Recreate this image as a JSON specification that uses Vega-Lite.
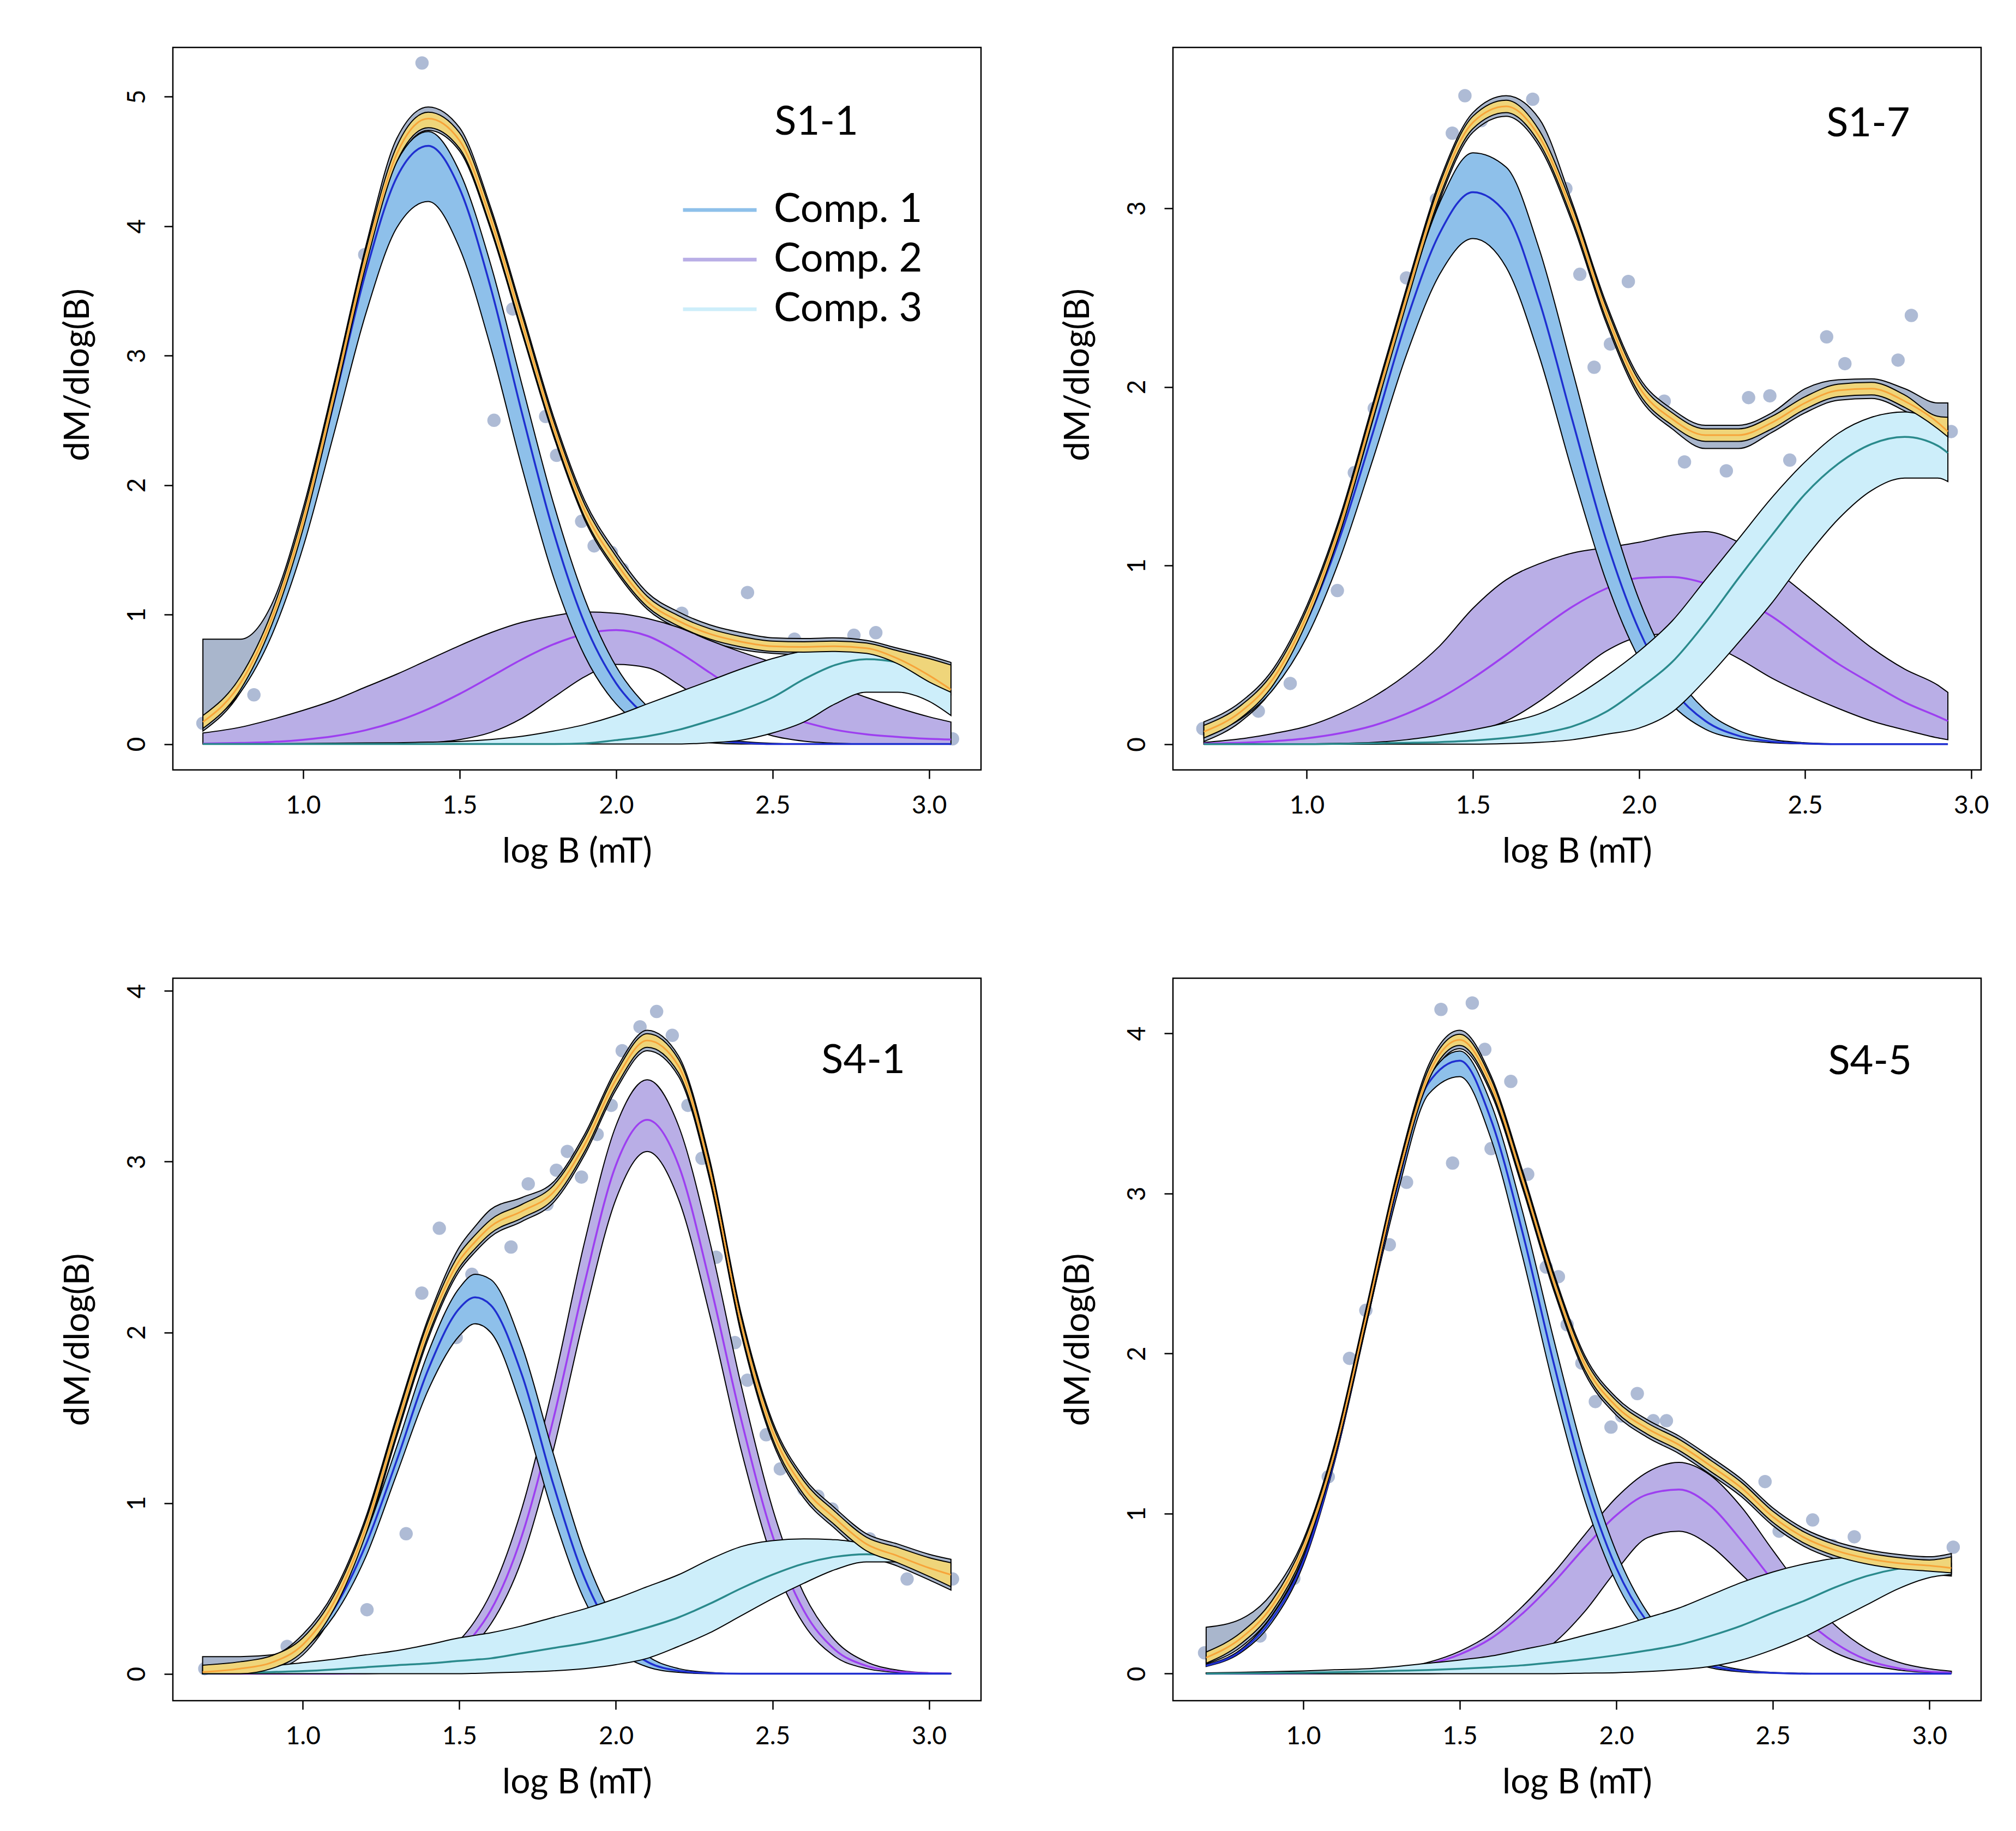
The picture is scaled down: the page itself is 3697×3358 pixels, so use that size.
{
"$schema": "https://vega.github.io/schema/vega-lite/v6.json",
"background": "white",
"padding": {"left": 109, "top": 85, "right": 10, "bottom": 10},
"datasets": {
"curves": [
{"p":"S1-1","x":0.68,"el":0.10,"eh":0.81,"c1l":0.14,"c1":0.17,"c1h":0.19,"c2l":0,"c2":0.003,"c2h":0.085,"c3l":0,"c3":0,"c3h":0,"tl":0.12,"t":0.17,"th":0.22},
{"p":"S1-1","x":0.8,"el":0.40,"eh":0.81,"c1l":0.40,"c1":0.46,"c1h":0.49,"c2l":0,"c2":0.008,"c2h":0.13,"c3l":0,"c3":0,"c3h":0,"tl":0.42,"t":0.47,"th":0.52},
{"p":"S1-1","x":0.9,"el":0.90,"eh":1.08,"c1l":0.84,"c1":0.95,"c1h":1.0,"c2l":0,"c2":0.016,"c2h":0.19,"c3l":0,"c3":0,"c3h":0.002,"tl":0.92,"t":0.97,"th":1.02},
{"p":"S1-1","x":1.0,"el":1.64,"eh":1.82,"c1l":1.52,"c1":1.69,"c1h":1.76,"c2l":0,"c2":0.033,"c2h":0.26,"c3l":0,"c3":0,"c3h":0.004,"tl":1.66,"t":1.72,"th":1.78},
{"p":"S1-1","x":1.1,"el":2.63,"eh":2.80,"c1l":2.41,"c1":2.65,"c1h":2.74,"c2l":0,"c2":0.061,"c2h":0.34,"c3l":0,"c3":0,"c3h":0.006,"tl":2.65,"t":2.71,"th":2.77},
{"p":"S1-1","x":1.2,"el":3.67,"eh":3.84,"c1l":3.32,"c1":3.64,"c1h":3.75,"c2l":0,"c2":0.107,"c2h":0.44,"c3l":0,"c3":0,"c3h":0.008,"tl":3.69,"t":3.75,"th":3.81},
{"p":"S1-1","x":1.3,"el":4.48,"eh":4.68,"c1l":3.99,"c1":4.38,"c1h":4.5,"c2l":0,"c2":0.176,"c2h":0.54,"c3l":0,"c3":0,"c3h":0.01,"tl":4.50,"t":4.56,"th":4.62},
{"p":"S1-1","x":1.4,"el":4.74,"eh":4.92,"c1l":4.19,"c1":4.62,"c1h":4.73,"c2l":0.01,"c2":0.27,"c2h":0.65,"c3l":0,"c3":0,"c3h":0.015,"tl":4.76,"t":4.83,"th":4.88},
{"p":"S1-1","x":1.5,"el":4.58,"eh":4.76,"c1l":3.83,"c1":4.29,"c1h":4.42,"c2l":0.034,"c2":0.387,"c2h":0.76,"c3l":0,"c3":0,"c3h":0.02,"tl":4.60,"t":4.66,"th":4.72},
{"p":"S1-1","x":1.6,"el":3.97,"eh":4.14,"c1l":3.06,"c1":3.52,"c1h":3.70,"c2l":0.09,"c2":0.52,"c2h":0.86,"c3l":0,"c3":0,"c3h":0.035,"tl":3.99,"t":4.05,"th":4.11},
{"p":"S1-1","x":1.7,"el":3.17,"eh":3.34,"c1l":2.13,"c1":2.55,"c1h":2.77,"c2l":0.20,"c2":0.655,"c2h":0.94,"c3l":0,"c3":0,"c3h":0.06,"tl":3.19,"t":3.25,"th":3.31},
{"p":"S1-1","x":1.8,"el":2.38,"eh":2.53,"c1l":1.29,"c1":1.64,"c1h":1.86,"c2l":0.36,"c2":0.77,"c2h":0.99,"c3l":0,"c3":0,"c3h":0.10,"tl":2.40,"t":2.45,"th":2.50},
{"p":"S1-1","x":1.9,"el":1.73,"eh":1.88,"c1l":0.68,"c1":0.93,"c1h":1.12,"c2l":0.52,"c2":0.85,"c2h":1.02,"c3l":0,"c3":0.005,"c3h":0.15,"tl":1.75,"t":1.80,"th":1.85},
{"p":"S1-1","x":2.0,"el":1.33,"eh":1.48,"c1l":0.31,"c1":0.47,"c1h":0.60,"c2l":0.615,"c2":0.88,"c2h":1.01,"c3l":0,"c3":0.03,"c3h":0.22,"tl":1.35,"t":1.40,"th":1.45},
{"p":"S1-1","x":2.1,"el":1.04,"eh":1.17,"c1l":0.13,"c1":0.21,"c1h":0.29,"c2l":0.59,"c2":0.835,"c2h":0.97,"c3l":0,"c3":0.06,"c3h":0.31,"tl":1.06,"t":1.10,"th":1.14},
{"p":"S1-1","x":2.2,"el":0.89,"eh":1.02,"c1l":0.05,"c1":0.08,"c1h":0.12,"c2l":0.46,"c2":0.71,"c2h":0.90,"c3l":0,"c3":0.11,"c3h":0.40,"tl":0.91,"t":0.95,"th":0.99},
{"p":"S1-1","x":2.3,"el":0.79,"eh":0.92,"c1l":0.01,"c1":0.03,"c1h":0.05,"c2l":0.29,"c2":0.55,"c2h":0.80,"c3l":0.01,"c3":0.18,"c3h":0.49,"tl":0.81,"t":0.85,"th":0.89},
{"p":"S1-1","x":2.4,"el":0.73,"eh":0.86,"c1l":0,"c1":0.01,"c1h":0.02,"c2l":0.15,"c2":0.39,"c2h":0.71,"c3l":0.03,"c3":0.26,"c3h":0.58,"tl":0.75,"t":0.79,"th":0.83},
{"p":"S1-1","x":2.5,"el":0.70,"eh":0.82,"c1l":0,"c1":0,"c1h":0.005,"c2l":0.063,"c2":0.24,"c2h":0.63,"c3l":0.085,"c3":0.36,"c3h":0.66,"tl":0.715,"t":0.755,"th":0.795},
{"p":"S1-1","x":2.6,"el":0.69,"eh":0.815,"c1l":0,"c1":0,"c1h":0,"c2l":0.022,"c2":0.17,"c2h":0.54,"c3l":0.17,"c3":0.50,"c3h":0.72,"tl":0.71,"t":0.75,"th":0.79},
{"p":"S1-1","x":2.7,"el":0.70,"eh":0.82,"c1l":0,"c1":0,"c1h":0,"c2l":0.006,"c2":0.11,"c2h":0.45,"c3l":0.31,"c3":0.61,"c3h":0.76,"tl":0.715,"t":0.755,"th":0.795},
{"p":"S1-1","x":2.8,"el":0.68,"eh":0.80,"c1l":0,"c1":0,"c1h":0,"c2l":0,"c2":0.075,"c2h":0.36,"c3l":0.40,"c3":0.655,"c3h":0.75,"tl":0.70,"t":0.74,"th":0.78},
{"p":"S1-1","x":2.9,"el":0.60,"eh":0.74,"c1l":0,"c1":0,"c1h":0,"c2l":0,"c2":0.055,"c2h":0.28,"c3l":0.40,"c3":0.63,"c3h":0.70,"tl":0.62,"t":0.66,"th":0.72},
{"p":"S1-1","x":3.0,"el":0.46,"eh":0.68,"c1l":0,"c1":0,"c1h":0,"c2l":0,"c2":0.04,"c2h":0.21,"c3l":0.33,"c3":0.52,"c3h":0.58,"tl":0.48,"t":0.53,"th":0.66},
{"p":"S1-1","x":3.07,"el":0.38,"eh":0.63,"c1l":0,"c1":0,"c1h":0,"c2l":0,"c2":0.035,"c2h":0.17,"c3l":0.22,"c3":0.42,"c3h":0.50,"tl":0.40,"t":0.42,"th":0.61},

{"p":"S1-7","x":0.69,"el":0.015,"eh":0.125,"c1l":0.052,"c1":0.067,"c1h":0.075,"c2l":0,"c2":0.004,"c2h":0.01,"c3l":0,"c3":0,"c3h":0,"tl":0.035,"t":0.07,"th":0.105},
{"p":"S1-7","x":0.8,"el":0.125,"eh":0.235,"c1l":0.14,"c1":0.174,"c1h":0.18,"c2l":0,"c2":0.008,"c2h":0.03,"c3l":0,"c3":0,"c3h":0,"tl":0.145,"t":0.18,"th":0.215},
{"p":"S1-7","x":0.9,"el":0.315,"eh":0.425,"c1l":0.31,"c1":0.367,"c1h":0.38,"c2l":0,"c2":0.017,"c2h":0.06,"c3l":0,"c3":0,"c3h":0,"tl":0.335,"t":0.37,"th":0.405},
{"p":"S1-7","x":1.0,"el":0.665,"eh":0.775,"c1l":0.60,"c1":0.69,"c1h":0.71,"c2l":0,"c2":0.033,"c2h":0.10,"c3l":0,"c3":0,"c3h":0.002,"tl":0.685,"t":0.72,"th":0.755},
{"p":"S1-7","x":1.1,"el":1.165,"eh":1.275,"c1l":1.04,"c1":1.16,"c1h":1.19,"c2l":0,"c2":0.061,"c2h":0.17,"c3l":0,"c3":0.002,"c3h":0.005,"tl":1.185,"t":1.22,"th":1.255},
{"p":"S1-7","x":1.2,"el":1.805,"eh":1.915,"c1l":1.60,"c1":1.75,"c1h":1.82,"c2l":0,"c2":0.104,"c2h":0.265,"c3l":0,"c3":0.005,"c3h":0.01,"tl":1.825,"t":1.86,"th":1.895},
{"p":"S1-7","x":1.3,"el":2.445,"eh":2.555,"c1l":2.18,"c1":2.37,"c1h":2.48,"c2l":0.01,"c2":0.17,"c2h":0.39,"c3l":0,"c3":0.008,"c3h":0.025,"tl":2.465,"t":2.50,"th":2.535},
{"p":"S1-7","x":1.4,"el":3.045,"eh":3.155,"c1l":2.63,"c1":2.86,"c1h":3.03,"c2l":0.03,"c2":0.257,"c2h":0.55,"c3l":0,"c3":0.012,"c3h":0.05,"tl":3.065,"t":3.10,"th":3.135},
{"p":"S1-7","x":1.5,"el":3.425,"eh":3.535,"c1l":2.83,"c1":3.09,"c1h":3.31,"c2l":0.07,"c2":0.37,"c2h":0.76,"c3l":0,"c3":0.02,"c3h":0.08,"tl":3.445,"t":3.48,"th":3.515},
{"p":"S1-7","x":1.6,"el":3.515,"eh":3.63,"c1l":2.67,"c1":2.97,"c1h":3.23,"c2l":0.13,"c2":0.50,"c2h":0.92,"c3l":0.003,"c3":0.035,"c3h":0.12,"tl":3.535,"t":3.57,"th":3.605},
{"p":"S1-7","x":1.7,"el":3.345,"eh":3.50,"c1l":2.17,"c1":2.48,"c1h":2.77,"c2l":0.24,"c2":0.64,"c2h":1.01,"c3l":0.01,"c3":0.06,"c3h":0.17,"tl":3.365,"t":3.40,"th":3.435},
{"p":"S1-7","x":1.8,"el":2.915,"eh":3.025,"c1l":1.52,"c1":1.81,"c1h":2.09,"c2l":0.38,"c2":0.77,"c2h":1.07,"c3l":0.025,"c3":0.10,"c3h":0.26,"tl":2.935,"t":2.97,"th":3.005},
{"p":"S1-7","x":1.9,"el":2.365,"eh":2.475,"c1l":0.92,"c1":1.15,"c1h":1.39,"c2l":0.52,"c2":0.87,"c2h":1.10,"c3l":0.055,"c3":0.18,"c3h":0.38,"tl":2.385,"t":2.42,"th":2.455},
{"p":"S1-7","x":2.0,"el":1.945,"eh":2.055,"c1l":0.48,"c1":0.64,"c1h":0.81,"c2l":0.60,"c2":0.93,"c2h":1.13,"c3l":0.09,"c3":0.31,"c3h":0.52,"tl":1.965,"t":2.00,"th":2.035},
{"p":"S1-7","x":2.1,"el":1.765,"eh":1.875,"c1l":0.22,"c1":0.31,"c1h":0.42,"c2l":0.62,"c2":0.936,"c2h":1.17,"c3l":0.18,"c3":0.46,"c3h":0.69,"tl":1.785,"t":1.82,"th":1.855},
{"p":"S1-7","x":2.2,"el":1.655,"eh":1.785,"c1l":0.084,"c1":0.13,"c1h":0.19,"c2l":0.57,"c2":0.90,"c2h":1.19,"c3l":0.36,"c3":0.68,"c3h":0.92,"tl":1.695,"t":1.73,"th":1.765},
{"p":"S1-7","x":2.3,"el":1.655,"eh":1.785,"c1l":0.028,"c1":0.047,"c1h":0.076,"c2l":0.48,"c2":0.82,"c2h":1.13,"c3l":0.57,"c3":0.93,"c3h":1.15,"tl":1.695,"t":1.73,"th":1.765},
{"p":"S1-7","x":2.4,"el":1.745,"eh":1.855,"c1l":0.008,"c1":0.015,"c1h":0.027,"c2l":0.37,"c2":0.715,"c2h":0.99,"c3l":0.79,"c3":1.17,"c3h":1.38,"tl":1.765,"t":1.80,"th":1.835},
{"p":"S1-7","x":2.5,"el":1.855,"eh":1.99,"c1l":0.002,"c1":0.004,"c1h":0.008,"c2l":0.28,"c2":0.58,"c2h":0.84,"c3l":1.04,"c3":1.40,"c3h":1.58,"tl":1.875,"t":1.91,"th":1.945},
{"p":"S1-7","x":2.6,"el":1.925,"eh":2.04,"c1l":0,"c1":0,"c1h":0.002,"c2l":0.20,"c2":0.45,"c2h":0.69,"c3l":1.26,"c3":1.57,"c3h":1.74,"tl":1.945,"t":1.98,"th":2.015},
{"p":"S1-7","x":2.7,"el":1.935,"eh":2.045,"c1l":0,"c1":0,"c1h":0,"c2l":0.13,"c2":0.34,"c2h":0.54,"c3l":1.42,"c3":1.68,"c3h":1.83,"tl":1.955,"t":1.99,"th":2.025},
{"p":"S1-7","x":2.8,"el":1.865,"eh":1.99,"c1l":0,"c1":0,"c1h":0,"c2l":0.08,"c2":0.235,"c2h":0.42,"c3l":1.49,"c3":1.72,"c3h":1.86,"tl":1.885,"t":1.92,"th":1.955},
{"p":"S1-7","x":2.9,"el":1.745,"eh":1.91,"c1l":0,"c1":0,"c1h":0,"c2l":0.035,"c2":0.155,"c2h":0.33,"c3l":1.49,"c3":1.67,"c3h":1.81,"tl":1.765,"t":1.80,"th":1.835},
{"p":"S1-7","x":2.93,"el":1.70,"eh":1.91,"c1l":0,"c1":0,"c1h":0,"c2l":0.025,"c2":0.13,"c2h":0.29,"c3l":1.47,"c3":1.63,"c3h":1.79,"tl":1.72,"t":1.75,"th":1.83},

{"p":"S4-1","x":0.68,"el":0,"eh":0.10,"c1l":0.003,"c1":0.004,"c1h":0.006,"c2l":0,"c2":0,"c2h":0,"c3l":0,"c3":0,"c3h":0.02,"tl":0,"t":0.01,"th":0.05},
{"p":"S4-1","x":0.8,"el":0,"eh":0.10,"c1l":0.014,"c1":0.018,"c1h":0.022,"c2l":0,"c2":0,"c2h":0,"c3l":0,"c3":0.005,"c3h":0.03,"tl":0,"t":0.03,"th":0.07},
{"p":"S4-1","x":0.9,"el":0.02,"eh":0.11,"c1l":0.05,"c1":0.059,"c1h":0.068,"c2l":0,"c2":0,"c2h":0,"c3l":0,"c3":0.01,"c3h":0.045,"tl":0.03,"t":0.065,"th":0.105},
{"p":"S4-1","x":1.0,"el":0.11,"eh":0.23,"c1l":0.14,"c1":0.16,"c1h":0.18,"c2l":0,"c2":0,"c2h":0,"c3l":0,"c3":0.015,"c3h":0.065,"tl":0.13,"t":0.17,"th":0.21},
{"p":"S4-1","x":1.1,"el":0.36,"eh":0.48,"c1l":0.34,"c1":0.38,"c1h":0.41,"c2l":0,"c2":0,"c2h":0.001,"c3l":0,"c3":0.025,"c3h":0.085,"tl":0.38,"t":0.42,"th":0.46},
{"p":"S4-1","x":1.2,"el":0.79,"eh":0.91,"c1l":0.68,"c1":0.75,"c1h":0.81,"c2l":0,"c2":0.003,"c2h":0.005,"c3l":0,"c3":0.038,"c3h":0.11,"tl":0.81,"t":0.85,"th":0.89},
{"p":"S4-1","x":1.3,"el":1.39,"eh":1.51,"c1l":1.17,"c1":1.25,"c1h":1.33,"c2l":0.007,"c2":0.013,"c2h":0.021,"c3l":0,"c3":0.05,"c3h":0.135,"tl":1.41,"t":1.45,"th":1.49},
{"p":"S4-1","x":1.4,"el":1.96,"eh":2.08,"c1l":1.66,"c1":1.78,"c1h":1.88,"c2l":0.03,"c2":0.046,"c2h":0.069,"c3l":0,"c3":0.06,"c3h":0.17,"tl":1.98,"t":2.02,"th":2.06},
{"p":"S4-1","x":1.5,"el":2.36,"eh":2.50,"c1l":1.98,"c1":2.14,"c1h":2.26,"c2l":0.10,"c2":0.14,"c2h":0.195,"c3l":0,"c3":0.075,"c3h":0.21,"tl":2.38,"t":2.42,"th":2.46},
{"p":"S4-1","x":1.55,"el":2.47,"eh":2.62,"c1l":2.05,"c1":2.205,"c1h":2.34,"c2l":0.175,"c2":0.235,"c2h":0.31,"c3l":0.002,"c3":0.082,"c3h":0.225,"tl":2.49,"t":2.53,"th":2.57},
{"p":"S4-1","x":1.6,"el":2.56,"eh":2.72,"c1l":2.0,"c1":2.16,"c1h":2.31,"c2l":0.29,"c2":0.37,"c2h":0.47,"c3l":0.005,"c3":0.09,"c3h":0.24,"tl":2.58,"t":2.62,"th":2.66},
{"p":"S4-1","x":1.7,"el":2.65,"eh":2.79,"c1l":1.55,"c1":1.75,"c1h":1.92,"c2l":0.67,"c2":0.81,"c2h":0.97,"c3l":0.01,"c3":0.12,"c3h":0.28,"tl":2.67,"t":2.71,"th":2.75},
{"p":"S4-1","x":1.8,"el":2.76,"eh":2.88,"c1l":0.93,"c1":1.11,"c1h":1.29,"c2l":1.31,"c2":1.49,"c2h":1.69,"c3l":0.017,"c3":0.15,"c3h":0.33,"tl":2.78,"t":2.82,"th":2.86},
{"p":"S4-1","x":1.9,"el":3.04,"eh":3.16,"c1l":0.43,"c1":0.56,"c1h":0.70,"c2l":2.10,"c2":2.29,"c2h":2.53,"c3l":0.03,"c3":0.18,"c3h":0.38,"tl":3.06,"t":3.10,"th":3.14},
{"p":"S4-1","x":2.0,"el":3.42,"eh":3.54,"c1l":0.15,"c1":0.22,"c1h":0.30,"c2l":2.78,"c2":2.98,"c2h":3.21,"c3l":0.053,"c3":0.22,"c3h":0.44,"tl":3.44,"t":3.48,"th":3.52},
{"p":"S4-1","x":2.1,"el":3.65,"eh":3.77,"c1l":0.04,"c1":0.07,"c1h":0.105,"c2l":3.06,"c2":3.245,"c2h":3.48,"c3l":0.09,"c3":0.27,"c3h":0.51,"tl":3.67,"t":3.71,"th":3.75},
{"p":"S4-1","x":2.2,"el":3.50,"eh":3.62,"c1l":0.008,"c1":0.017,"c1h":0.03,"c2l":2.78,"c2":2.98,"c2h":3.21,"c3l":0.16,"c3":0.33,"c3h":0.58,"tl":3.52,"t":3.56,"th":3.60},
{"p":"S4-1","x":2.3,"el":2.89,"eh":3.01,"c1l":0,"c1":0.003,"c1h":0.007,"c2l":2.10,"c2":2.29,"c2h":2.53,"c3l":0.24,"c3":0.41,"c3h":0.67,"tl":2.91,"t":2.95,"th":2.99},
{"p":"S4-1","x":2.4,"el":1.99,"eh":2.11,"c1l":0,"c1":0,"c1h":0,"c2l":1.31,"c2":1.49,"c2h":1.69,"c3l":0.34,"c3":0.50,"c3h":0.745,"tl":2.01,"t":2.05,"th":2.09},
{"p":"S4-1","x":2.5,"el":1.36,"eh":1.48,"c1l":0,"c1":0,"c1h":0,"c2l":0.67,"c2":0.81,"c2h":0.97,"c3l":0.44,"c3":0.58,"c3h":0.78,"tl":1.38,"t":1.42,"th":1.46},
{"p":"S4-1","x":2.6,"el":1.03,"eh":1.15,"c1l":0,"c1":0,"c1h":0,"c2l":0.29,"c2":0.37,"c2h":0.47,"c3l":0.53,"c3":0.645,"c3h":0.79,"tl":1.05,"t":1.09,"th":1.13},
{"p":"S4-1","x":2.7,"el":0.85,"eh":0.97,"c1l":0,"c1":0,"c1h":0,"c2l":0.10,"c2":0.14,"c2h":0.195,"c3l":0.61,"c3":0.685,"c3h":0.785,"tl":0.87,"t":0.91,"th":0.95},
{"p":"S4-1","x":2.8,"el":0.70,"eh":0.82,"c1l":0,"c1":0,"c1h":0,"c2l":0.03,"c2":0.046,"c2h":0.069,"c3l":0.655,"c3":0.70,"c3h":0.76,"tl":0.72,"t":0.76,"th":0.80},
{"p":"S4-1","x":2.9,"el":0.63,"eh":0.76,"c1l":0,"c1":0,"c1h":0,"c2l":0.007,"c2":0.013,"c2h":0.021,"c3l":0.655,"c3":0.69,"c3h":0.72,"tl":0.65,"t":0.69,"th":0.74},
{"p":"S4-1","x":3.0,"el":0.55,"eh":0.70,"c1l":0,"c1":0,"c1h":0,"c2l":0,"c2":0.003,"c2h":0.005,"c3l":0.60,"c3":0.62,"c3h":0.65,"tl":0.57,"t":0.62,"th":0.68},
{"p":"S4-1","x":3.07,"el":0.49,"eh":0.67,"c1l":0,"c1":0,"c1h":0,"c2l":0,"c2":0.001,"c2h":0.002,"c3l":0.555,"c3":0.58,"c3h":0.61,"tl":0.51,"t":0.58,"th":0.65},

{"p":"S4-5","x":0.69,"el":0.06,"eh":0.29,"c1l":0.045,"c1":0.05,"c1h":0.055,"c2l":0,"c2":0,"c2h":0,"c3l":0,"c3":0,"c3h":0.005,"tl":0.065,"t":0.10,"th":0.135},
{"p":"S4-5","x":0.8,"el":0.165,"eh":0.34,"c1l":0.13,"c1":0.14,"c1h":0.15,"c2l":0,"c2":0,"c2h":0,"c3l":0,"c3":0.002,"c3h":0.008,"tl":0.185,"t":0.22,"th":0.255},
{"p":"S4-5","x":0.9,"el":0.365,"eh":0.50,"c1l":0.32,"c1":0.34,"c1h":0.36,"c2l":0,"c2":0,"c2h":0,"c3l":0,"c3":0.004,"c3h":0.012,"tl":0.385,"t":0.42,"th":0.455},
{"p":"S4-5","x":1.0,"el":0.725,"eh":0.835,"c1l":0.68,"c1":0.70,"c1h":0.72,"c2l":0,"c2":0.001,"c2h":0.002,"c3l":0,"c3":0.006,"c3h":0.017,"tl":0.745,"t":0.78,"th":0.815},
{"p":"S4-5","x":1.1,"el":1.325,"eh":1.435,"c1l":1.32,"c1":1.34,"c1h":1.36,"c2l":0,"c2":0.004,"c2h":0.005,"c3l":0,"c3":0.009,"c3h":0.024,"tl":1.345,"t":1.38,"th":1.415},
{"p":"S4-5","x":1.2,"el":2.165,"eh":2.275,"c1l":2.17,"c1":2.20,"c1h":2.22,"c2l":0,"c2":0.011,"c2h":0.013,"c3l":0,"c3":0.013,"c3h":0.03,"tl":2.185,"t":2.22,"th":2.255},
{"p":"S4-5","x":1.3,"el":3.025,"eh":3.135,"c1l":2.99,"c1":3.04,"c1h":3.07,"c2l":0,"c2":0.026,"c2h":0.032,"c3l":0,"c3":0.018,"c3h":0.045,"tl":3.045,"t":3.08,"th":3.115},
{"p":"S4-5","x":1.4,"el":3.685,"eh":3.80,"c1l":3.62,"c1":3.69,"c1h":3.72,"c2l":0,"c2":0.059,"c2h":0.071,"c3l":0,"c3":0.023,"c3h":0.065,"tl":3.705,"t":3.74,"th":3.775},
{"p":"S4-5","x":1.5,"el":3.905,"eh":4.02,"c1l":3.73,"c1":3.83,"c1h":3.89,"c2l":0.006,"c2":0.12,"c2h":0.14,"c3l":0,"c3":0.03,"c3h":0.085,"tl":3.925,"t":3.96,"th":3.995},
{"p":"S4-5","x":1.6,"el":3.625,"eh":3.735,"c1l":3.34,"c1":3.46,"c1h":3.56,"c2l":0.023,"c2":0.22,"c2h":0.25,"c3l":0,"c3":0.04,"c3h":0.11,"tl":3.645,"t":3.68,"th":3.715},
{"p":"S4-5","x":1.7,"el":3.035,"eh":3.145,"c1l":2.61,"c1":2.76,"c1h":2.89,"c2l":0.073,"c2":0.375,"c2h":0.42,"c3l":0,"c3":0.052,"c3h":0.15,"tl":3.055,"t":3.09,"th":3.125},
{"p":"S4-5","x":1.8,"el":2.395,"eh":2.505,"c1l":1.79,"c1":1.94,"c1h":2.09,"c2l":0.19,"c2":0.57,"c2h":0.63,"c3l":0,"c3":0.07,"c3h":0.19,"tl":2.415,"t":2.45,"th":2.485},
{"p":"S4-5","x":1.9,"el":1.875,"eh":1.985,"c1l":1.08,"c1":1.20,"c1h":1.34,"c2l":0.39,"c2":0.79,"c2h":0.87,"c3l":0.003,"c3":0.09,"c3h":0.24,"tl":1.895,"t":1.93,"th":1.965},
{"p":"S4-5","x":2.0,"el":1.615,"eh":1.725,"c1l":0.57,"c1":0.66,"c1h":0.76,"c2l":0.645,"c2":0.99,"c2h":1.10,"c3l":0.006,"c3":0.115,"c3h":0.29,"tl":1.635,"t":1.67,"th":1.705},
{"p":"S4-5","x":2.1,"el":1.475,"eh":1.585,"c1l":0.26,"c1":0.32,"c1h":0.38,"c2l":0.85,"c2":1.12,"c2h":1.26,"c3l":0.013,"c3":0.145,"c3h":0.35,"tl":1.495,"t":1.53,"th":1.565},
{"p":"S4-5","x":2.2,"el":1.375,"eh":1.485,"c1l":0.105,"c1":0.13,"c1h":0.17,"c2l":0.89,"c2":1.15,"c2h":1.32,"c3l":0.025,"c3":0.18,"c3h":0.41,"tl":1.395,"t":1.43,"th":1.465},
{"p":"S4-5","x":2.3,"el":1.245,"eh":1.355,"c1l":0.037,"c1":0.05,"c1h":0.07,"c2l":0.80,"c2":1.05,"c2h":1.24,"c3l":0.045,"c3":0.235,"c3h":0.49,"tl":1.265,"t":1.30,"th":1.335},
{"p":"S4-5","x":2.4,"el":1.105,"eh":1.215,"c1l":0.011,"c1":0.017,"c1h":0.024,"c2l":0.62,"c2":0.83,"c2h":1.04,"c3l":0.085,"c3":0.30,"c3h":0.57,"tl":1.125,"t":1.16,"th":1.195},
{"p":"S4-5","x":2.5,"el":0.925,"eh":1.035,"c1l":0.003,"c1":0.005,"c1h":0.007,"c2l":0.43,"c2":0.58,"c2h":0.77,"c3l":0.15,"c3":0.38,"c3h":0.635,"tl":0.945,"t":0.98,"th":1.015},
{"p":"S4-5","x":2.6,"el":0.795,"eh":0.905,"c1l":0,"c1":0,"c1h":0.002,"c2l":0.25,"c2":0.35,"c2h":0.51,"c3l":0.23,"c3":0.455,"c3h":0.685,"tl":0.815,"t":0.85,"th":0.885},
{"p":"S4-5","x":2.7,"el":0.715,"eh":0.825,"c1l":0,"c1":0,"c1h":0,"c2l":0.13,"c2":0.19,"c2h":0.30,"c3l":0.33,"c3":0.54,"c3h":0.72,"tl":0.735,"t":0.77,"th":0.805},
{"p":"S4-5","x":2.8,"el":0.665,"eh":0.775,"c1l":0,"c1":0,"c1h":0,"c2l":0.06,"c2":0.086,"c2h":0.155,"c3l":0.43,"c3":0.61,"c3h":0.73,"tl":0.685,"t":0.72,"th":0.755},
{"p":"S4-5","x":2.9,"el":0.635,"eh":0.745,"c1l":0,"c1":0,"c1h":0,"c2l":0.023,"c2":0.034,"c2h":0.072,"c3l":0.53,"c3":0.655,"c3h":0.715,"tl":0.655,"t":0.69,"th":0.725},
{"p":"S4-5","x":3.0,"el":0.62,"eh":0.73,"c1l":0,"c1":0,"c1h":0,"c2l":0.008,"c2":0.012,"c2h":0.03,"c3l":0.60,"c3":0.675,"c3h":0.70,"tl":0.64,"t":0.675,"th":0.71},
{"p":"S4-5","x":3.07,"el":0.61,"eh":0.75,"c1l":0,"c1":0,"c1h":0,"c2l":0.004,"c2":0.006,"c2h":0.015,"c3l":0.62,"c3":0.68,"c3h":0.69,"tl":0.63,"t":0.66,"th":0.73}
],
"pts": [
{"p":"S1-1","x":0.68,"y":0.16},{"p":"S1-1","x":0.843,"y":0.38},{"p":"S1-1","x":1.197,"y":3.78},{"p":"S1-1","x":1.38,"y":5.26},{"p":"S1-1","x":1.61,"y":2.5},{"p":"S1-1","x":1.67,"y":3.36},{"p":"S1-1","x":1.775,"y":2.53},{"p":"S1-1","x":1.81,"y":2.23},{"p":"S1-1","x":1.89,"y":1.72},{"p":"S1-1","x":1.93,"y":1.53},{"p":"S1-1","x":1.985,"y":1.48},{"p":"S1-1","x":2.02,"y":1.35},{"p":"S1-1","x":2.16,"y":1.0},{"p":"S1-1","x":2.21,"y":1.01},{"p":"S1-1","x":2.42,"y":1.17},{"p":"S1-1","x":2.57,"y":0.81},{"p":"S1-1","x":2.76,"y":0.84},{"p":"S1-1","x":2.83,"y":0.86},{"p":"S1-1","x":3.075,"y":0.04},
{"p":"S1-7","x":0.687,"y":0.087},{"p":"S1-7","x":0.854,"y":0.185},{"p":"S1-7","x":0.95,"y":0.34},{"p":"S1-7","x":1.092,"y":0.86},{"p":"S1-7","x":1.143,"y":1.52},{"p":"S1-7","x":1.203,"y":1.88},{"p":"S1-7","x":1.30,"y":2.61},{"p":"S1-7","x":1.39,"y":3.05},{"p":"S1-7","x":1.438,"y":3.42},{"p":"S1-7","x":1.476,"y":3.63},{"p":"S1-7","x":1.525,"y":3.49},{"p":"S1-7","x":1.68,"y":3.61},{"p":"S1-7","x":1.78,"y":3.11},{"p":"S1-7","x":1.822,"y":2.63},{"p":"S1-7","x":1.865,"y":2.11},{"p":"S1-7","x":1.914,"y":2.24},{"p":"S1-7","x":1.968,"y":2.59},{"p":"S1-7","x":2.076,"y":1.92},{"p":"S1-7","x":2.137,"y":1.58},{"p":"S1-7","x":2.195,"y":1.75},{"p":"S1-7","x":2.263,"y":1.53},{"p":"S1-7","x":2.33,"y":1.94},{"p":"S1-7","x":2.394,"y":1.95},{"p":"S1-7","x":2.454,"y":1.59},{"p":"S1-7","x":2.565,"y":2.28},{"p":"S1-7","x":2.62,"y":2.13},{"p":"S1-7","x":2.78,"y":2.15},{"p":"S1-7","x":2.82,"y":2.40},{"p":"S1-7","x":2.94,"y":1.75},
{"p":"S4-1","x":0.687,"y":0.03},{"p":"S4-1","x":0.95,"y":0.16},{"p":"S4-1","x":1.205,"y":0.375},{"p":"S4-1","x":1.33,"y":0.82},{"p":"S4-1","x":1.38,"y":2.23},{"p":"S4-1","x":1.436,"y":2.61},{"p":"S4-1","x":1.49,"y":1.97},{"p":"S4-1","x":1.54,"y":2.34},{"p":"S4-1","x":1.665,"y":2.50},{"p":"S4-1","x":1.72,"y":2.87},{"p":"S4-1","x":1.78,"y":2.75},{"p":"S4-1","x":1.81,"y":2.95},{"p":"S4-1","x":1.845,"y":3.06},{"p":"S4-1","x":1.89,"y":2.91},{"p":"S4-1","x":1.94,"y":3.16},{"p":"S4-1","x":1.985,"y":3.33},{"p":"S4-1","x":2.02,"y":3.65},{"p":"S4-1","x":2.077,"y":3.79},{"p":"S4-1","x":2.13,"y":3.88},{"p":"S4-1","x":2.18,"y":3.74},{"p":"S4-1","x":2.23,"y":3.33},{"p":"S4-1","x":2.275,"y":3.02},{"p":"S4-1","x":2.32,"y":2.44},{"p":"S4-1","x":2.38,"y":1.94},{"p":"S4-1","x":2.42,"y":1.72},{"p":"S4-1","x":2.48,"y":1.40},{"p":"S4-1","x":2.525,"y":1.20},{"p":"S4-1","x":2.60,"y":1.08},{"p":"S4-1","x":2.645,"y":1.04},{"p":"S4-1","x":2.69,"y":0.965},{"p":"S4-1","x":2.81,"y":0.79},{"p":"S4-1","x":2.93,"y":0.555},{"p":"S4-1","x":3.075,"y":0.555},
{"p":"S4-5","x":0.685,"y":0.13},{"p":"S4-5","x":0.862,"y":0.235},{"p":"S4-5","x":0.97,"y":0.595},{"p":"S4-5","x":1.08,"y":1.23},{"p":"S4-5","x":1.148,"y":1.97},{"p":"S4-5","x":1.20,"y":2.27},{"p":"S4-5","x":1.275,"y":2.68},{"p":"S4-5","x":1.33,"y":3.07},{"p":"S4-5","x":1.44,"y":4.15},{"p":"S4-5","x":1.477,"y":3.19},{"p":"S4-5","x":1.54,"y":4.19},{"p":"S4-5","x":1.58,"y":3.90},{"p":"S4-5","x":1.60,"y":3.28},{"p":"S4-5","x":1.663,"y":3.70},{"p":"S4-5","x":1.717,"y":3.12},{"p":"S4-5","x":1.776,"y":2.54},{"p":"S4-5","x":1.815,"y":2.48},{"p":"S4-5","x":1.843,"y":2.18},{"p":"S4-5","x":1.89,"y":1.94},{"p":"S4-5","x":1.933,"y":1.70},{"p":"S4-5","x":1.983,"y":1.54},{"p":"S4-5","x":2.017,"y":1.61},{"p":"S4-5","x":2.067,"y":1.75},{"p":"S4-5","x":2.118,"y":1.58},{"p":"S4-5","x":2.16,"y":1.58},{"p":"S4-5","x":2.475,"y":1.20},{"p":"S4-5","x":2.52,"y":0.89},{"p":"S4-5","x":2.627,"y":0.96},{"p":"S4-5","x":2.69,"y":0.80},{"p":"S4-5","x":2.76,"y":0.855},{"p":"S4-5","x":2.995,"y":0.655},{"p":"S4-5","x":3.076,"y":0.79}
],
"labels": [
{"p":"S1-1","x":2.64,"y":4.80},{"p":"S1-7","x":2.69,"y":3.47},{"p":"S4-1","x":2.79,"y":3.59},{"p":"S4-5","x":2.81,"y":3.82}
]
},
"columns": 2,
"spacing": {"row": 382, "column": 352},
"bounds": "flush",
"resolve": {"scale": {"fill": "independent"}, "legend": {"fill": "independent"}},
"concat": [
{
"width": 1482, "height": 1325,
"encoding": {"x": {"field": "x", "type": "quantitative", "scale": {"domain": [0.584, 3.166], "nice": false, "zero": false}, "axis": {"values": [1, 1.5, 2, 2.5, 3], "format": ".1f", "title": "log B (mT)"}}},
"layer": [
{"data": {"name": "pts"}, "transform": [{"filter": "datum.p == 'S1-1'"}], "mark": {"type": "circle", "size": 600, "color": "#aebbd5", "opacity": 1},
 "encoding": {"y": {"field": "y", "type": "quantitative", "scale": {"domain": [-0.2, 5.38], "nice": false, "zero": false}, "axis": {"values": [0, 1, 2, 3, 4, 5], "format": "d", "title": "dM/dlog(B)", "titleY": 600}}}},
{"data": {"name": "curves"}, "transform": [{"filter": "datum.p == 'S1-1'"}],
 "layer": [
  {"mark": {"type": "area", "interpolate": "monotone", "fill": "#a9b6cc", "stroke": "black", "strokeWidth": 2, "opacity": 1}, "encoding": {"y": {"field": "el", "type": "quantitative"}, "y2": {"field": "eh"}}},
  {"mark": {"type": "area", "interpolate": "monotone", "opacity": 1}, "encoding": {"y": {"field": "c2l", "type": "quantitative"}, "y2": {"field": "c2h"}, "fill": {"datum": "Comp. 2", "type": "nominal", "scale": {"domain": ["Comp. 1", "Comp. 2", "Comp. 3"], "range": ["#8ec0ea", "#b9aee6", "#cdeefa"]}, "legend": {"title": null, "orient": "none", "legendX": 966, "legendY": 261, "direction": "vertical", "symbolType": "M-2,-0.1H2V0.1H-2Z", "symbolSize": 4556, "symbolStrokeWidth": 0, "symbolOpacity": 1, "labelFont": "Lato", "labelFontSize": 74, "labelColor": "black", "labelOffset": 62, "rowPadding": 17, "padding": 0, "labelLimit": 0}}}},
  {"mark": {"type": "area", "interpolate": "monotone", "fillOpacity": 0, "stroke": "black", "strokeWidth": 2}, "encoding": {"y": {"field": "c2l", "type": "quantitative"}, "y2": {"field": "c2h"}}},
  {"mark": {"type": "line", "interpolate": "monotone", "color": "#9d3ff0", "strokeWidth": 3.5}, "encoding": {"y": {"field": "c2", "type": "quantitative"}}},
  {"mark": {"type": "area", "interpolate": "monotone", "opacity": 1}, "encoding": {"y": {"field": "c1l", "type": "quantitative"}, "y2": {"field": "c1h"}, "fill": {"datum": "Comp. 1", "type": "nominal"}}},
  {"mark": {"type": "area", "interpolate": "monotone", "fillOpacity": 0, "stroke": "black", "strokeWidth": 2}, "encoding": {"y": {"field": "c1l", "type": "quantitative"}, "y2": {"field": "c1h"}}},
  {"mark": {"type": "line", "interpolate": "monotone", "color": "#1f2fd0", "strokeWidth": 3.5}, "encoding": {"y": {"field": "c1", "type": "quantitative"}}},
  {"mark": {"type": "area", "interpolate": "monotone", "opacity": 1}, "encoding": {"y": {"field": "c3l", "type": "quantitative"}, "y2": {"field": "c3h"}, "fill": {"datum": "Comp. 3", "type": "nominal"}}},
  {"mark": {"type": "area", "interpolate": "monotone", "fillOpacity": 0, "stroke": "black", "strokeWidth": 2}, "encoding": {"y": {"field": "c3l", "type": "quantitative"}, "y2": {"field": "c3h"}}},
  {"mark": {"type": "line", "interpolate": "monotone", "color": "#2a8a8c", "strokeWidth": 3.5}, "encoding": {"y": {"field": "c3", "type": "quantitative"}}},
  {"mark": {"type": "area", "interpolate": "monotone", "fill": "#efd57a", "stroke": "black", "strokeWidth": 2, "opacity": 1}, "encoding": {"y": {"field": "tl", "type": "quantitative"}, "y2": {"field": "th"}}},
  {"mark": {"type": "line", "interpolate": "monotone", "color": "#f7a43a", "strokeWidth": 3}, "encoding": {"y": {"field": "t", "type": "quantitative"}}}
 ]},
{"data": {"name": "labels"}, "transform": [{"filter": "datum.p == 'S1-1'"}], "mark": {"type": "text", "fontSize": 74, "font": "Lato", "color": "black"}, "encoding": {"y": {"field": "y", "type": "quantitative"}, "text": {"field": "p"}}}
]
},
{
"width": 1482, "height": 1325,
"encoding": {"x": {"field": "x", "type": "quantitative", "scale": {"domain": [0.597, 3.03], "nice": false, "zero": false}, "axis": {"values": [1, 1.5, 2, 2.5, 3], "format": ".1f", "title": "log B (mT)"}}},
"layer": [
{"data": {"name": "pts"}, "transform": [{"filter": "datum.p == 'S1-7'"}], "mark": {"type": "circle", "size": 600, "color": "#aebbd5", "opacity": 1},
 "encoding": {"y": {"field": "y", "type": "quantitative", "scale": {"domain": [-0.144, 3.9], "nice": false, "zero": false}, "axis": {"values": [0, 1, 2, 3], "format": "d", "title": "dM/dlog(B)", "titleY": 600}}}},
{"data": {"name": "curves"}, "transform": [{"filter": "datum.p == 'S1-7'"}],
 "layer": [
  {"mark": {"type": "area", "interpolate": "monotone", "fill": "#a9b6cc", "stroke": "black", "strokeWidth": 2, "opacity": 1}, "encoding": {"y": {"field": "el", "type": "quantitative"}, "y2": {"field": "eh"}}},
  {"mark": {"type": "area", "interpolate": "monotone", "fill": "#b9aee6", "stroke": "black", "strokeWidth": 2, "opacity": 1}, "encoding": {"y": {"field": "c2l", "type": "quantitative"}, "y2": {"field": "c2h"}}},
  {"mark": {"type": "line", "interpolate": "monotone", "color": "#9d3ff0", "strokeWidth": 3.5}, "encoding": {"y": {"field": "c2", "type": "quantitative"}}},
  {"mark": {"type": "area", "interpolate": "monotone", "fill": "#8ec0ea", "stroke": "black", "strokeWidth": 2, "opacity": 1}, "encoding": {"y": {"field": "c1l", "type": "quantitative"}, "y2": {"field": "c1h"}}},
  {"mark": {"type": "line", "interpolate": "monotone", "color": "#1f2fd0", "strokeWidth": 3.5}, "encoding": {"y": {"field": "c1", "type": "quantitative"}}},
  {"mark": {"type": "area", "interpolate": "monotone", "fill": "#cdeefa", "stroke": "black", "strokeWidth": 2, "opacity": 1}, "encoding": {"y": {"field": "c3l", "type": "quantitative"}, "y2": {"field": "c3h"}}},
  {"mark": {"type": "line", "interpolate": "monotone", "color": "#2a8a8c", "strokeWidth": 3.5}, "encoding": {"y": {"field": "c3", "type": "quantitative"}}},
  {"mark": {"type": "area", "interpolate": "monotone", "fill": "#efd57a", "stroke": "black", "strokeWidth": 2, "opacity": 1}, "encoding": {"y": {"field": "tl", "type": "quantitative"}, "y2": {"field": "th"}}},
  {"mark": {"type": "line", "interpolate": "monotone", "color": "#f7a43a", "strokeWidth": 3}, "encoding": {"y": {"field": "t", "type": "quantitative"}}}
 ]},
{"data": {"name": "labels"}, "transform": [{"filter": "datum.p == 'S1-7'"}], "mark": {"type": "text", "fontSize": 74, "font": "Lato", "color": "black"}, "encoding": {"y": {"field": "y", "type": "quantitative"}, "text": {"field": "p"}}}
]
},
{
"width": 1482, "height": 1325,
"encoding": {"x": {"field": "x", "type": "quantitative", "scale": {"domain": [0.585, 3.166], "nice": false, "zero": false}, "axis": {"values": [1, 1.5, 2, 2.5, 3], "format": ".1f", "title": "log B (mT)"}}},
"layer": [
{"data": {"name": "pts"}, "transform": [{"filter": "datum.p == 'S4-1'"}], "mark": {"type": "circle", "size": 600, "color": "#aebbd5", "opacity": 1},
 "encoding": {"y": {"field": "y", "type": "quantitative", "scale": {"domain": [-0.158, 4.075], "nice": false, "zero": false}, "axis": {"values": [0, 1, 2, 3, 4], "format": "d", "title": "dM/dlog(B)"}}}},
{"data": {"name": "curves"}, "transform": [{"filter": "datum.p == 'S4-1'"}],
 "layer": [
  {"mark": {"type": "area", "interpolate": "monotone", "fill": "#a9b6cc", "stroke": "black", "strokeWidth": 2, "opacity": 1}, "encoding": {"y": {"field": "el", "type": "quantitative"}, "y2": {"field": "eh"}}},
  {"mark": {"type": "area", "interpolate": "monotone", "fill": "#b9aee6", "stroke": "black", "strokeWidth": 2, "opacity": 1}, "encoding": {"y": {"field": "c2l", "type": "quantitative"}, "y2": {"field": "c2h"}}},
  {"mark": {"type": "line", "interpolate": "monotone", "color": "#9d3ff0", "strokeWidth": 3.5}, "encoding": {"y": {"field": "c2", "type": "quantitative"}}},
  {"mark": {"type": "area", "interpolate": "monotone", "fill": "#8ec0ea", "stroke": "black", "strokeWidth": 2, "opacity": 1}, "encoding": {"y": {"field": "c1l", "type": "quantitative"}, "y2": {"field": "c1h"}}},
  {"mark": {"type": "line", "interpolate": "monotone", "color": "#1f2fd0", "strokeWidth": 3.5}, "encoding": {"y": {"field": "c1", "type": "quantitative"}}},
  {"mark": {"type": "area", "interpolate": "monotone", "fill": "#cdeefa", "stroke": "black", "strokeWidth": 2, "opacity": 1}, "encoding": {"y": {"field": "c3l", "type": "quantitative"}, "y2": {"field": "c3h"}}},
  {"mark": {"type": "line", "interpolate": "monotone", "color": "#2a8a8c", "strokeWidth": 3.5}, "encoding": {"y": {"field": "c3", "type": "quantitative"}}},
  {"mark": {"type": "area", "interpolate": "monotone", "fill": "#efd57a", "stroke": "black", "strokeWidth": 2, "opacity": 1}, "encoding": {"y": {"field": "tl", "type": "quantitative"}, "y2": {"field": "th"}}},
  {"mark": {"type": "line", "interpolate": "monotone", "color": "#f7a43a", "strokeWidth": 3}, "encoding": {"y": {"field": "t", "type": "quantitative"}}}
 ]},
{"data": {"name": "labels"}, "transform": [{"filter": "datum.p == 'S4-1'"}], "mark": {"type": "text", "fontSize": 74, "font": "Lato", "color": "black"}, "encoding": {"y": {"field": "y", "type": "quantitative"}, "text": {"field": "p"}}}
]
},
{
"width": 1482, "height": 1325,
"encoding": {"x": {"field": "x", "type": "quantitative", "scale": {"domain": [0.584, 3.165], "nice": false, "zero": false}, "axis": {"values": [1, 1.5, 2, 2.5, 3], "format": ".1f", "title": "log B (mT)"}}},
"layer": [
{"data": {"name": "pts"}, "transform": [{"filter": "datum.p == 'S4-5'"}], "mark": {"type": "circle", "size": 600, "color": "#aebbd5", "opacity": 1},
 "encoding": {"y": {"field": "y", "type": "quantitative", "scale": {"domain": [-0.169, 4.345], "nice": false, "zero": false}, "axis": {"values": [0, 1, 2, 3, 4], "format": "d", "title": "dM/dlog(B)"}}}},
{"data": {"name": "curves"}, "transform": [{"filter": "datum.p == 'S4-5'"}],
 "layer": [
  {"mark": {"type": "area", "interpolate": "monotone", "fill": "#a9b6cc", "stroke": "black", "strokeWidth": 2, "opacity": 1}, "encoding": {"y": {"field": "el", "type": "quantitative"}, "y2": {"field": "eh"}}},
  {"mark": {"type": "area", "interpolate": "monotone", "fill": "#b9aee6", "stroke": "black", "strokeWidth": 2, "opacity": 1}, "encoding": {"y": {"field": "c2l", "type": "quantitative"}, "y2": {"field": "c2h"}}},
  {"mark": {"type": "line", "interpolate": "monotone", "color": "#9d3ff0", "strokeWidth": 3.5}, "encoding": {"y": {"field": "c2", "type": "quantitative"}}},
  {"mark": {"type": "area", "interpolate": "monotone", "fill": "#8ec0ea", "stroke": "black", "strokeWidth": 2, "opacity": 1}, "encoding": {"y": {"field": "c1l", "type": "quantitative"}, "y2": {"field": "c1h"}}},
  {"mark": {"type": "line", "interpolate": "monotone", "color": "#1f2fd0", "strokeWidth": 3.5}, "encoding": {"y": {"field": "c1", "type": "quantitative"}}},
  {"mark": {"type": "area", "interpolate": "monotone", "fill": "#cdeefa", "stroke": "black", "strokeWidth": 2, "opacity": 1}, "encoding": {"y": {"field": "c3l", "type": "quantitative"}, "y2": {"field": "c3h"}}},
  {"mark": {"type": "line", "interpolate": "monotone", "color": "#2a8a8c", "strokeWidth": 3.5}, "encoding": {"y": {"field": "c3", "type": "quantitative"}}},
  {"mark": {"type": "area", "interpolate": "monotone", "fill": "#efd57a", "stroke": "black", "strokeWidth": 2, "opacity": 1}, "encoding": {"y": {"field": "tl", "type": "quantitative"}, "y2": {"field": "th"}}},
  {"mark": {"type": "line", "interpolate": "monotone", "color": "#f7a43a", "strokeWidth": 3}, "encoding": {"y": {"field": "t", "type": "quantitative"}}}
 ]},
{"data": {"name": "labels"}, "transform": [{"filter": "datum.p == 'S4-5'"}], "mark": {"type": "text", "fontSize": 74, "font": "Lato", "color": "black"}, "encoding": {"y": {"field": "y", "type": "quantitative"}, "text": {"field": "p"}}}
]
}
],
"config": {
"font": "Lato",
"view": {"stroke": "black", "strokeWidth": 2.5},
"axis": {"domain": false, "grid": false, "ticks": true, "tickSize": 16, "tickWidth": 2.5, "tickColor": "black", "labelFont": "Lato", "labelFontSize": 46, "labelColor": "black", "titleFont": "Lato", "titleFontSize": 64, "titleFontWeight": "normal", "titleColor": "black", "labelOverlap": false, "labelFlush": false},
"axisX": {"labelPadding": 27, "titlePadding": 30},
"axisY": {"labelAngle": -90, "labelAlign": "center", "labelBaseline": "bottom", "labelPadding": 26, "titlePadding": 53}
}
}
